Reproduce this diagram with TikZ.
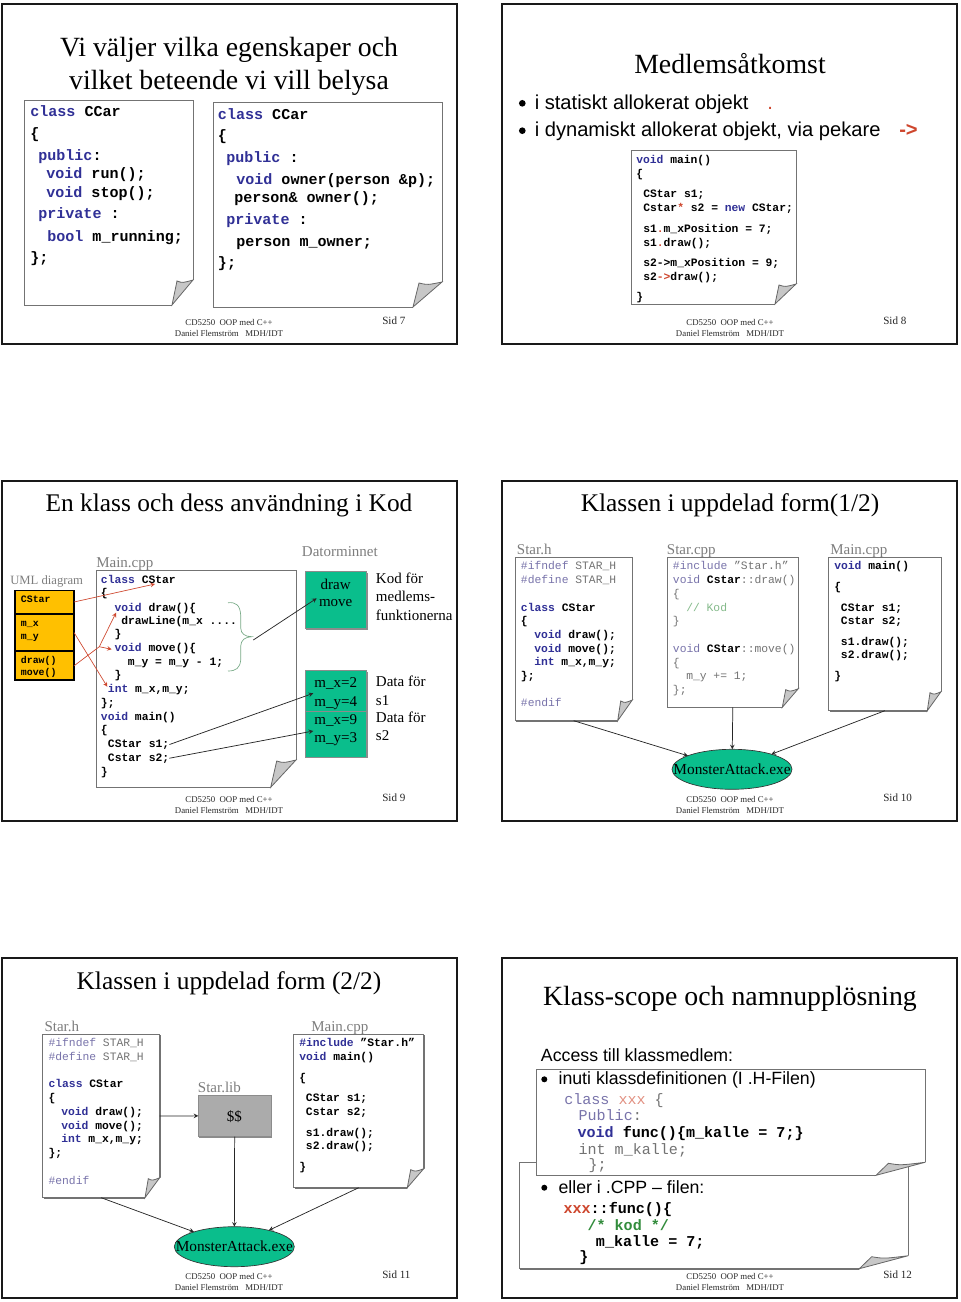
\documentclass[tikz,border=0pt]{standalone}
\usepackage{fontspec}
\setmainfont{Liberation Serif}
\setsansfont{Liberation Sans}
\setmonofont{Liberation Mono}
\usepackage{tikz}
\usetikzlibrary{arrows,shapes,positioning,shadows,fit,calc}
\usepackage{xcolor}
\definecolor{dfkey}{RGB}{48,48,150}
\definecolor{dfdimkey}{RGB}{120,115,170}
\definecolor{dfdim}{RGB}{115,115,115}
\definecolor{dfgreen}{RGB}{10,190,140}
\definecolor{dfyellow}{RGB}{255,192,0}
\definecolor{dfred}{RGB}{206,70,45}
\definecolor{dfbrace}{RGB}{120,170,135}
\definecolor{dflabel}{RGB}{125,125,125}
\definecolor{dfcomment}{RGB}{50,140,60}
\newcommand{\kw}[1]{\textcolor{dfkey}{#1}}
\newcommand{\dk}[1]{\textcolor{dfdimkey}{#1}}
\newcommand{\rd}[1]{\textcolor{dfred}{#1}}
\newcommand{\foldcorner}[4]{%
  \fill[white] ($(#1.south east)+(-#2,0)$) -- ($(#1.south east)+(0,-#3)$) -- ($(#1.south east)+(3,-#3)$) -- ($(#1.south east)+(3,3)$) -- ($(#1.south east)+(-#2,3)$) -- cycle;
  \filldraw[fill=black!22, draw=black!60, line width=0.6pt] ($(#1.south east)+(-#2,0)$) -- ($(#1.south east)+(-#2+#4,-#3+1)$) .. controls ($(#1.south east)+(-#2*0.5,-#3+3)$) .. ($(#1.south east)+(0,-#3)$) -- cycle;
}
\tikzstyle{arrow} = [line width=0.55pt,->,>=stealth,color=black!85]
\tikzstyle{redarrow} = [line width=0.5pt,->,>=stealth,color=dfred]
\tikzstyle{slideframe} = [rectangle, inner sep=0pt, outer sep=0pt, draw=black!90, line width=1.7pt]
\tikzstyle{page} = [rectangle, inner sep=0pt, outer sep=0pt, draw=black!55, fill=white, line width=0.6pt, drop shadow={shadow xshift=0.8pt, shadow yshift=-0.8pt, fill=black!55, opacity=1}]
\tikzstyle{membox} = [rectangle, inner sep=0pt, outer sep=0pt, draw=black!45, line width=0.5pt, fill=dfgreen, drop shadow={shadow xshift=0.6pt, shadow yshift=-0.6pt, fill=black!45, opacity=1}]
\tikzstyle{umlbox} = [rectangle, inner sep=0pt, outer sep=0pt, draw=black, line width=1pt, fill=dfyellow]
\tikzstyle{exefile} = [ellipse, inner sep=0pt, outer sep=0pt, draw=black!80, line width=0.5pt, fill=dfgreen, minimum width=90pt, minimum height=30pt]
\tikzstyle{exelabel} = [inner sep=0pt, font=\fontsize{11.5}{14}\selectfont]
\tikzstyle{dotmark} = [circle, inner sep=0pt, fill=black, minimum size=5pt]
\tikzstyle{slidetitle} = [inner sep=0pt, anchor=base, font=\fontsize{20.85}{24}\selectfont]
\tikzstyle{slidetitlelow} = [inner sep=0pt, anchor=base, font=\fontsize{19.05}{22}\selectfont]
\tikzstyle{bodytext} = [inner sep=0pt, anchor=base west, font=\sffamily\fontsize{15.1}{18}\selectfont]
\tikzstyle{smalltext} = [inner sep=0pt, anchor=base west, font=\sffamily\fontsize{13.3}{16}\selectfont]
\tikzstyle{filelabel} = [inner sep=0pt, anchor=base west, color=dflabel, font=\fontsize{11.25}{13}\selectfont]
\tikzstyle{memtext} = [inner sep=0pt, anchor=base, font=\fontsize{11.25}{13}\selectfont]
\tikzstyle{sidetext} = [inner sep=0pt, anchor=base west, font=\fontsize{11.25}{13}\selectfont]
\tikzstyle{foottext} = [inner sep=0pt, color=black!85, font=\fontsize{6.6}{8}\selectfont]
\tikzstyle{sidnum} = [inner sep=0pt, anchor=west, color=black!85, font=\fontsize{8.3}{10}\selectfont]
\tikzstyle{code} = [inner sep=0pt, anchor=base west, font=\ttfamily\bfseries\fontsize{8.5}{10}\selectfont]
\tikzstyle{codedim} = [inner sep=0pt, anchor=base west, color=dfdim, font=\ttfamily\fontsize{8.5}{10}\selectfont]
\tikzstyle{codebig} = [inner sep=0pt, anchor=base west, font=\ttfamily\bfseries\fontsize{11.3}{13}\selectfont]
\tikzstyle{codebigdim} = [inner sep=0pt, anchor=base west, color=dfdim, font=\ttfamily\fontsize{11.3}{13}\selectfont]
\tikzstyle{codeuml} = [inner sep=0pt, anchor=base west, font=\ttfamily\bfseries\fontsize{7.4}{9}\selectfont]
\begin{document}
\begin{tikzpicture}[x=0.75pt, y=-0.75pt]
\useasboundingbox (0,0) rectangle (960,1302);

% Slide frames
\node (frame7) [slideframe, fit={(2,4) (457,344)}] {};
\node (frame8) [slideframe, fit={(502,4) (957,344)}] {};
\node (frame9) [slideframe, fit={(2,481) (457,821)}] {};
\node (frame10) [slideframe, fit={(502,481) (957,821)}] {};
\node (frame11) [slideframe, fit={(2,958) (457,1298)}] {};
\node (frame12) [slideframe, fit={(502,958) (957,1298)}] {};

% Slide 7
\node (title7a) [slidetitle] at (229,57) {Vi väljer vilka egenskaper och};
\node (title7b) [slidetitle] at (229,90) {vilket beteende vi vill belysa};
\node (carpage) [page, fit={(24,100) (193,305)}] {};
\foldcorner{carpage}{21}{25}{5}
\node (ownpage) [page, fit={(213,102) (442,307)}] {};
\foldcorner{ownpage}{29}{25}{6}
\node (car1) [codebig] at (30,117) {\kw{class} CCar};
\node (car2) [codebig] at (30,139) {\{};
\node (car3) [codebig] at (38,161) {\kw{public}:};
\node (car4) [codebig] at (46,179) {\kw{void} run();};
\node (car5) [codebig] at (46,197.7) {\kw{void} stop();};
\node (car6) [codebig] at (38,219) {\kw{private} :};
\node (car7) [codebig] at (47,241) {\kw{bool} m\_running;};
\node (car8) [codebig] at (30,262) {\};};
\node (own1) [codebig] at (217.7,120) {\kw{class} CCar};
\node (own2) [codebig] at (217.7,141) {\{};
\node (own3) [codebig] at (226,163) {\kw{public} :};
\node (own4) [codebig] at (236,185) {\kw{void} owner(person \&p);};
\node (own5) [codebig] at (234,202.7) {person\& owner();};
\node (own6) [codebig] at (226,224.3) {\kw{private} :};
\node (own7) [codebig] at (236,246.7) {person m\_owner;};
\node (own8) [codebig] at (217.7,267) {\};};

% Slide 8
\node (title8) [slidetitle] at (730,74) {Medlemsåtkomst};
\node (dot8a) [dotmark] at (522.3,103.3) {};
\node (stat) [bodytext] at (534.5,109.5) {i statiskt allokerat objekt};
\node (statop) [bodytext, color=dfred] at (767,109.5) {.};
\node (dot8b) [dotmark] at (522.3,130.7) {};
\node (dyn) [bodytext] at (534.5,137) {i dynamiskt allokerat objekt, via pekare};
\node (dynop) [bodytext, color=dfred, font=\sffamily\bfseries\fontsize{15.1}{18}\selectfont] at (899,137) {->};
\node (mempage) [page, fit={(631.7,150.7) (796,304)}] {};
\foldcorner{mempage}{21}{20}{4}
\node (mem1) [code] at (636,163.5) {\kw{void} main()};
\node (mem2) [code] at (636,177) {\{};
\node (mem3) [code] at (643,197.5) {CStar s1;};
\node (mem4) [code] at (643,211.5) {Cstar\rd{*} s2 = \kw{new} CStar;};
\node (mem5) [code] at (643,232) {s1\rd{.}m\_xPosition = 7;};
\node (mem6) [code] at (643,246) {s1\rd{.}draw();};
\node (mem7) [code] at (643,266) {s2->m\_xPosition = 9;};
\node (mem8) [code] at (643,280) {s2\rd{->}draw();};
\node (mem9) [code] at (636,300) {\}};

% Slide 9
\node (title9) [slidetitlelow] at (229,511) {En klass och dess användning i Kod};
\node (umllabel) [filelabel, font=\fontsize{9.5}{11}\selectfont] at (10,584) {UML diagram};
\node (mainlabel9) [filelabel] at (96,567) {Main.cpp};
\node (ramlabel) [filelabel] at (301.7,556.7) {Datorminnet};
\node (umlname) [umlbox, fit={(15,590.7) (74,613.3)}] {};
\node (umlattr) [umlbox, fit={(15,614.3) (74,650.7)}] {};
\node (umlops) [umlbox, fit={(15,651.7) (74,680)}] {};
\node (uml1) [codeuml] at (20.7,602.7) {CStar};
\node (uml2) [codeuml] at (20.7,626.7) {m\_x};
\node (uml3) [codeuml] at (20.7,639) {m\_y};
\node (uml4) [codeuml] at (20.7,663) {draw()};
\node (uml5) [codeuml] at (20.7,675.7) {move()};
\node (clspage) [page, fit={(96,570.7) (296,787.3)}] {};
\foldcorner{clspage}{25.3}{27.3}{6}
\node (cls1) [code] at (100.7,583.3) {\kw{class} CStar};
\node (cls2) [code] at (100.7,596.7) {\{};
\node (cls3) [code] at (114.3,611) {\kw{void} draw()\{};
\node (cls4) [code] at (121,624.3) {drawLine(m\_x ....};
\node (cls5) [code] at (114.3,637.7) {\}};
\node (cls6) [code] at (114.3,651.7) {\kw{void} move()\{};
\node (cls7) [code] at (127.7,665) {m\_y = m\_y - 1;};
\node (cls8) [code] at (114.3,678.3) {\}};
\node (cls9) [code] at (107.7,692.7) {\kw{int} m\_x,m\_y;};
\node (cls10) [code] at (100.7,706) {\};};
\node (cls11) [code] at (100.7,720) {\kw{void} main()};
\node (cls12) [code] at (100.7,733.3) {\{};
\node (cls13) [code] at (107.7,747.3) {CStar s1;};
\node (cls14) [code] at (107.7,761) {Cstar s2;};
\node (cls15) [code] at (100.7,775) {\}};
\node (ramcode) [membox, fit={(305.3,571.7) (366.7,628.7)}] {};
\node (ramdata1) [membox, fit={(305.3,670.7) (366.7,711.7)}] {};
\node (ramdata2) [membox, fit={(305.3,711.7) (366.7,757.3)}] {};
\node (ram1) [memtext] at (335.7,589) {draw};
\node (ram2) [memtext] at (335.7,606.7) {move};
\node (ram3) [memtext] at (335.7,687.3) {m\_x=2};
\node (ram4) [memtext] at (335.7,706) {m\_y=4};
\node (ram5) [memtext] at (335.7,724) {m\_x=9};
\node (ram6) [memtext] at (335.7,742) {m\_y=3};
\node (side1) [sidetext] at (375.7,583.3) {Kod för};
\node (side2) [sidetext] at (375.7,601.7) {medlems-};
\node (side3) [sidetext] at (375.7,620) {funktionerna};
\node (side4) [sidetext] at (375.7,686.7) {Data för};
\node (side5) [sidetext] at (375.7,705) {s1};
\node (side6) [sidetext] at (375.7,722.7) {Data för};
\node (side7) [sidetext] at (375.7,740.7) {s2};
\draw[color=dfbrace, line width=0.5pt] (228,602.7) .. controls (236,602) and (240,605) .. (240.7,615) -- (240.7,628) .. controls (241,634) and (245,636.5) .. (251.7,636.7) .. controls (245,637) and (241,640) .. (240.7,646) -- (240.7,660) .. controls (240,668) and (236,671) .. (228,671);

% Show links from the UML box into the code
\coordinate (braceend) at (253.3,640);
\coordinate (ramtip) at (316.7,598.3);
\coordinate (classtip) at (155,584);
\coordinate (inttip) at (107.3,686.7);
\coordinate (opsjoin) at (99.3,646.7);
\coordinate (drawtip) at (116,612.7);
\coordinate (movetip) at (111.7,649.3);
\coordinate (s1tip) at (313.3,693.3);
\coordinate (s2tip) at (313.3,731);
\draw[redarrow] (umlname.east) -- (classtip);
\draw[redarrow] (umlattr.east) -- (inttip);
\draw[color=dfred, line width=0.5pt] (umlops.east) -- (opsjoin);
\draw[redarrow] (opsjoin) -- (drawtip);
\draw[redarrow] (opsjoin) -- (movetip);
\draw[arrow] (braceend) -- (ramtip);
\draw[arrow] (cls13.east) -- (s1tip);
\draw[arrow] (cls14.east) -- (s2tip);

% Slide 10
\node (title10) [slidetitlelow] at (730,511) {Klassen i uppdelad form(1/2)};
\node (hlabel) [filelabel] at (516.7,554) {Star.h};
\node (cpplabel) [filelabel] at (666.7,554) {Star.cpp};
\node (mainlabel10) [filelabel] at (830,554) {Main.cpp};
\node (hpage) [page, fit={(515,557.3) (632.3,720.7)}] {};
\foldcorner{hpage}{14.6}{20.7}{3}
\node (cpppage) [page, fit={(667.3,557.3) (798.3,707.3)}] {};
\foldcorner{cpppage}{16}{18.6}{3.4}
\node (mainpage) [page, fit={(828.7,557.3) (941,710.7)}] {};
\foldcorner{mainpage}{13.7}{19}{2.7}
\node (hdr1) [codedim] at (520.7,569.3) {\dk{\#ifndef} STAR\_H};
\node (hdr2) [codedim] at (520.7,583.3) {\dk{\#define} STAR\_H};
\node (hdr3) [code] at (520.7,611) {\kw{class} CStar};
\node (hdr4) [code] at (520.7,624.3) {\{};
\node (hdr5) [code] at (534,638.3) {\kw{void} draw();};
\node (hdr6) [code] at (534,652) {\kw{void} move();};
\node (hdr7) [code] at (534,665.7) {\kw{int} m\_x,m\_y;};
\node (hdr8) [code] at (520.7,679.3) {\};};
\node (hdr9) [codedim] at (520.7,706) {\dk{\#endif}};
\node (cpp1) [codedim] at (672.7,569.3) {\dk{\#include} ”Star.h”};
\node (cpp2) [codedim] at (672.7,583.3) {\dk{void} \textcolor{black}{\bfseries Cstar}::draw()};
\node (cpp3) [codedim] at (672.7,597) {\{};
\node (cpp4) [codedim, color=dfcomment!60] at (686,611) {// Kod};
\node (cpp5) [codedim] at (672.7,624.3) {\}};
\node (cpp6) [codedim] at (672.7,652) {\dk{void} \textcolor{black}{\bfseries CStar}::move()};
\node (cpp7) [codedim] at (672.7,666) {\{};
\node (cpp8) [codedim] at (686,679.3) {m\_y += 1;};
\node (cpp9) [codedim] at (672.7,693.3) {\};};
\node (mai1) [code] at (834,569.3) {\kw{void} main()};
\node (mai2) [code] at (834,590) {\{};
\node (mai3) [code] at (840.7,611) {CStar s1;};
\node (mai4) [code] at (840.7,624.3) {Cstar s2;};
\node (mai5) [code] at (840.7,645) {s1.draw();};
\node (mai6) [code] at (840.7,658.7) {s2.draw();};
\node (mai7) [code] at (834,679.3) {\}};
\node (exe10) [exefile] at (732,769.3) {};
\node (exetext10) [exelabel] at (exe10) {MonsterAttack.exe};
\draw[arrow] (hpage.south) -- (exe10);
\draw[arrow] (cpppage.south) -- (exe10);
\draw[arrow] (mainpage.south) -- (exe10);

% Slide 11
\node (title11) [slidetitlelow] at (229,989) {Klassen i uppdelad form (2/2)};
\node (hlabel11) [filelabel] at (44.3,1031.7) {Star.h};
\node (mainlabel11) [filelabel] at (311,1031.7) {Main.cpp};
\node (liblabel) [filelabel] at (197.7,1092.7) {Star.lib};
\node (hpage11) [page, fit={(42.7,1034.3) (159.7,1197.7)}] {};
\foldcorner{hpage11}{14.7}{20}{3.3}
\node (mainpage11) [page, fit={(293.7,1034.3) (423.7,1187.7)}] {};
\foldcorner{mainpage11}{16.4}{19}{3.4}
\node (libbox) [membox, fill=black!33, fit={(198.3,1095) (271,1136.7)}] {};
\node (libtext) [memtext] at (234.3,1121.7) {\$\$};
\node (lhd1) [codedim] at (48.3,1046.7) {\dk{\#ifndef} STAR\_H};
\node (lhd2) [codedim] at (48.3,1060.7) {\dk{\#define} STAR\_H};
\node (lhd3) [code] at (48.3,1087.7) {\kw{class} CStar};
\node (lhd4) [code] at (48.3,1101.7) {\{};
\node (lhd5) [code] at (61,1115.3) {\kw{void} draw();};
\node (lhd6) [code] at (61,1129) {\kw{void} move();};
\node (lhd7) [code] at (61,1142.7) {\kw{int} m\_x,m\_y;};
\node (lhd8) [code] at (48.3,1156.7) {\};};
\node (lhd9) [codedim] at (48.3,1184) {\dk{\#endif}};
\node (lma1) [code] at (299,1046.7) {\kw{\#include} ”Star.h”};
\node (lma2) [code] at (299,1060.7) {\kw{void} main()};
\node (lma3) [code] at (299,1081.7) {\{};
\node (lma4) [code] at (305.7,1101.7) {CStar s1;};
\node (lma5) [code] at (305.7,1115.3) {Cstar s2;};
\node (lma6) [code] at (305.7,1136) {s1.draw();};
\node (lma7) [code] at (305.7,1149.7) {s2.draw();};
\node (lma8) [code] at (299,1170) {\}};
\node (exe11) [exefile] at (234.3,1246.7) {};
\node (exetext11) [exelabel] at (exe11) {MonsterAttack.exe};
\draw[arrow] (hpage11.east) -- (libbox.west);
\draw[arrow] (hpage11.south) -- (exe11);
\draw[arrow] (libbox.south) -- (exe11);
\draw[arrow] (mainpage11.south) -- (exe11);

% Slide 12
\node (title12) [slidetitle] at (730,1005) {Klass-scope och namnupplösning};
\node (access) [smalltext] at (540.7,1061) {Access till klassmedlem:};
\node (outpage) [page, fit={(519.3,1162.3) (908.3,1268.7)}] {};
\foldcorner{outpage}{49}{13}{12.4}
\node (inpage) [page, fit={(536,1069.3) (925,1175.3)}] {};
\foldcorner{inpage}{49}{13}{12.4}
\draw[color=black!55, line width=0.6pt] (outpage.east |- inpage.south) ++(0,-8) -- ++(0,12);
\node (dot12a) [dotmark, minimum size=4.5pt] at (544.3,1079.3) {};
\node (inuti) [smalltext] at (558.3,1084.5) {inuti klassdefinitionen (I .H-Filen)};
\node (in1) [codebigdim] at (564,1104.3) {\dk{class} \textcolor{dfred!60}{xxx} \{};
\node (in2) [codebigdim] at (578.3,1120) {\dk{Public}:};
\node (in3) [codebig] at (577.3,1137.7) {\kw{void} func()\{m\_kalle = 7;\}};
\node (in4) [codebigdim] at (578.3,1154.3) {int m\_kalle;};
\node (in5) [codebigdim] at (588.3,1169.3) {\};};
\node (dot12b) [dotmark, minimum size=4.5pt] at (544.3,1187.7) {};
\node (eller) [smalltext] at (558.3,1193.3) {eller i .CPP – filen:};
\node (ut1) [codebig] at (563.3,1213.7) {\rd{xxx}::func()\{};
\node (ut2) [codebig, color=dfcomment] at (587.3,1230.3) {/* kod */};
\node (ut3) [codebig] at (595.7,1246.3) {m\_kalle = 7;};
\node (ut4) [codebig] at (579,1261.7) {\}};

% Footers
\node (foot7) [foottext] at (229,322) {CD5250\ \ OOP med C++};
\node (name7) [foottext] at (229,333) {Daniel Flemström\ \ \ MDH/IDT};
\node (sid7) [sidnum] at (382,321) {Sid 7};
\node (foot8) [foottext] at (730,322) {CD5250\ \ OOP med C++};
\node (name8) [foottext] at (730,333) {Daniel Flemström\ \ \ MDH/IDT};
\node (sid8) [sidnum] at (883,321) {Sid 8};
\node (foot9) [foottext] at (229,799.5) {CD5250\ \ OOP med C++};
\node (name9) [foottext] at (229,810.5) {Daniel Flemström\ \ \ MDH/IDT};
\node (sid9) [sidnum] at (382,798) {Sid 9};
\node (foot10) [foottext] at (730,799.5) {CD5250\ \ OOP med C++};
\node (name10) [foottext] at (730,810.5) {Daniel Flemström\ \ \ MDH/IDT};
\node (sid10) [sidnum] at (883,798) {Sid 10};
\node (foot11) [foottext] at (229,1276.5) {CD5250\ \ OOP med C++};
\node (name11) [foottext] at (229,1287.5) {Daniel Flemström\ \ \ MDH/IDT};
\node (sid11) [sidnum] at (382,1275) {Sid 11};
\node (foot12) [foottext] at (730,1276.5) {CD5250\ \ OOP med C++};
\node (name12) [foottext] at (730,1287.5) {Daniel Flemström\ \ \ MDH/IDT};
\node (sid12) [sidnum] at (883,1275) {Sid 12};
\end{tikzpicture}
\end{document}
